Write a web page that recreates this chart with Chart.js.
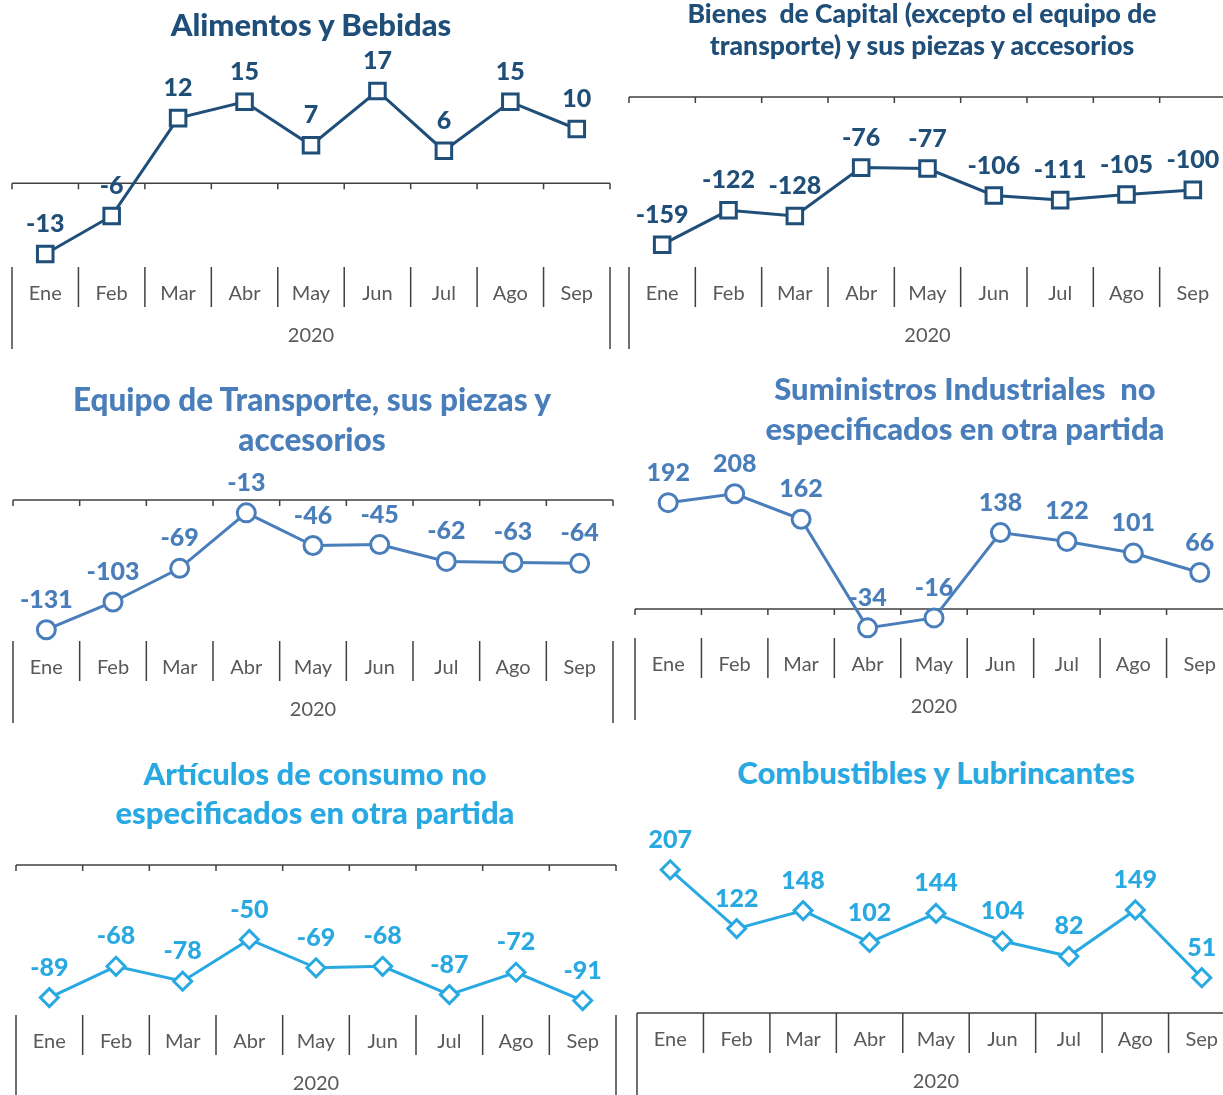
<!DOCTYPE html>
<html lang="es">
<head>
<meta charset="UTF-8">
<title>Importaciones 2020</title>
<script src="https://cdn.jsdelivr.net/npm/chart.js"></script>
<style>
  html, body { margin: 0; padding: 0; background: #fff; overflow: hidden; }
  body { width: 1223px; height: 1095px; position: relative; font-family: Lato, "Open Sans", sans-serif; }
  canvas { position: absolute; }
  .titulo { position: absolute; transform: translateX(-50%); text-align: center; white-space: pre; font-weight: 900; }
</style>
</head>
<body>
<script>
// datos
const meses = ['Ene', 'Feb', 'Mar', 'Abr', 'May', 'Jun', 'Jul', 'Ago', 'Sep'];
const anio = '2020';
const alimentos = [-13, -6, 12, 15, 7, 17, 6, 15, 10];
const bienesCapital = [-159, -122, -128, -76, -77, -106, -111, -105, -100];
const equipoTransporte = [-131, -103, -69, -13, -46, -45, -62, -63, -64];
const suministros = [192, 208, 162, -34, -16, 138, 122, 101, 66];
const articulosConsumo = [-89, -68, -78, -50, -69, -68, -87, -72, -91];
const combustibles = [207, 122, 148, 102, 144, 104, 82, 149, 51];

const azulOscuro = '#1F4E79';
const azulMedio = '#4A7EBB';
const celeste = '#29A9E1';

// paneles: caja del canvas, area de trazado y rango del eje y
const paneles = [
  { titulo: 'Alimentos y Bebidas', tx: 311, ty: 24, lh: 34, fs: 31,
    datos: alimentos, color: azulOscuro, punto: 'rect', radio: 11,
    cl: 0, ct: 30, cw: 622, ch: 330, x0: 12, x1: 610, top: 60, banda: 267, min: -15.4, max: 22.7 },
  { titulo: 'Bienes  de Capital (excepto el equipo de\ntransporte) y sus piezas y accesorios', tx: 922, ty: 13, lh: 32, fs: 26.5,
    datos: bienesCapital, color: azulOscuro, punto: 'rect', radio: 11,
    cl: 622, ct: 30, cw: 620, ch: 330, x0: 629, x1: 1226, top: 97, banda: 267, min: -183, max: 0 },
  { titulo: 'Equipo de Transporte, sus piezas y\naccesorios', tx: 312, ty: 399, lh: 40, fs: 31.5,
    datos: equipoTransporte, color: azulMedio, punto: 'circle', radio: 9,
    cl: 0, ct: 440, cw: 622, ch: 292, x0: 13, x1: 613, top: 500, banda: 641, min: -142.4, max: 0 },
  { titulo: 'Suministros Industriales  no\nespecificados en otra partida', tx: 965, ty: 388, lh: 40, fs: 31,
    datos: suministros, color: azulMedio, punto: 'circle', radio: 9,
    cl: 622, ct: 440, cw: 620, ch: 292, x0: 635, x1: 1233, top: 455, banda: 638, min: -52.3, max: 278 },
  { titulo: 'Artículos de consumo no\nespecificados en otra partida', tx: 315, ty: 773, lh: 39, fs: 31,
    datos: articulosConsumo, color: celeste, punto: 'rectRot', radio: 9,
    cl: 0, ct: 815, cw: 622, ch: 280, x0: 16, x1: 616, top: 865, banda: 1015, min: -100.7, max: 0 },
  { titulo: 'Combustibles y Lubrincantes', tx: 936, ty: 772, lh: 34, fs: 31,
    datos: combustibles, color: celeste, punto: 'rectRot', radio: 9,
    cl: 622, ct: 815, cw: 620, ch: 280, x0: 637, x1: 1235, top: 820, banda: 1013, min: 0, max: 279 }
];

// eje horizontal en cero + banda de meses y año
const ejeCategorias = {
  id: 'ejeCategorias',
  beforeDatasetsDraw(chart) {
    const { ctx, chartArea: a, scales: { x, y } } = chart;
    const n = chart.data.labels.length;
    const w = (a.right - a.left) / n;
    let yz = y.getPixelForValue(0);
    yz = Math.min(Math.max(yz, a.top), a.bottom);
    ctx.save();
    ctx.strokeStyle = '#404040';
    ctx.lineWidth = 1.5;
    ctx.beginPath();
    ctx.moveTo(a.left, yz);
    ctx.lineTo(a.right, yz);
    for (let i = 0; i <= n; i++) {
      const bx = a.left + i * w;
      ctx.moveTo(bx, yz);
      ctx.lineTo(bx, yz + 6);
    }
    const bt = a.bottom;
    for (let i = 0; i <= n; i++) {
      const bx = a.left + i * w;
      ctx.moveTo(bx, bt);
      ctx.lineTo(bx, (i === 0 || i === n) ? bt + 82 : bt + 40);
    }
    ctx.stroke();
    ctx.fillStyle = '#595959';
    ctx.font = '20px Lato';
    ctx.textAlign = 'center';
    ctx.textBaseline = 'middle';
    chart.data.labels.forEach((m, i) => ctx.fillText(m, x.getPixelForValue(i), bt + 27));
    ctx.fillText(anio, (a.left + a.right) / 2, bt + 69);
    ctx.restore();
  }
};

// etiquetas de valores encima de cada punto
const etiquetas = {
  id: 'etiquetas',
  afterDatasetsDraw(chart) {
    const { ctx } = chart;
    const ds = chart.data.datasets[0];
    const meta = chart.getDatasetMeta(0);
    ctx.save();
    ctx.fillStyle = ds.borderColor;
    ctx.font = '900 25px Lato';
    ctx.textAlign = 'center';
    ctx.textBaseline = 'middle';
    meta.data.forEach((p, i) => ctx.fillText(String(ds.data[i]), p.x, p.y - 30));
    ctx.restore();
  }
};

paneles.forEach(p => {
  const t = document.createElement('div');
  t.className = 'titulo';
  t.textContent = p.titulo;
  t.style.left = p.tx + 'px';
  t.style.top = (p.ty - p.lh / 2) + 'px';
  t.style.lineHeight = p.lh + 'px';
  t.style.fontSize = p.fs + 'px';
  t.style.color = p.color;

  const c = document.createElement('canvas');
  c.width = p.cw;
  c.height = p.ch;
  c.style.left = p.cl + 'px';
  c.style.top = p.ct + 'px';
  document.body.appendChild(c);
  document.body.appendChild(t);

  new Chart(c, {
    type: 'line',
    data: {
      labels: meses,
      datasets: [{
        data: p.datos,
        borderColor: p.color,
        borderWidth: 3,
        pointStyle: p.punto,
        pointRadius: p.radio,
        pointBorderWidth: 3,
        pointBackgroundColor: '#fff',
        pointBorderColor: p.color,
        tension: 0,
        clip: false
      }]
    },
    options: {
      responsive: false,
      animation: false,
      devicePixelRatio: 1,
      layout: {
        autoPadding: false,
        padding: {
          left: p.x0 - p.cl,
          right: p.cl + p.cw - p.x1,
          top: p.top - p.ct,
          bottom: p.ct + p.ch - p.banda
        }
      },
      scales: {
        x: { display: false, offset: true },
        y: { display: false, min: p.min, max: p.max }
      },
      plugins: { legend: { display: false }, tooltip: { enabled: false } }
    },
    plugins: [ejeCategorias, etiquetas]
  });
});
</script>
</body>
</html>
